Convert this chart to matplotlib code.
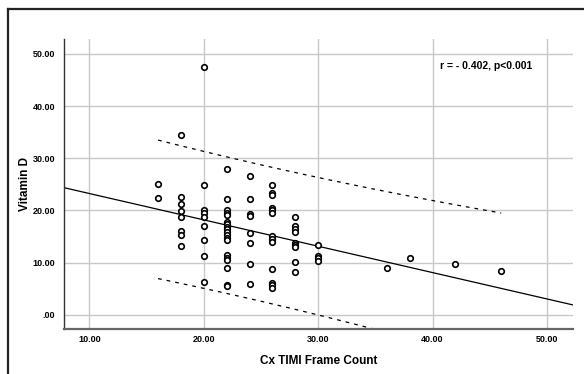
#!/usr/bin/env python3
"""Scatter of Vitamin D vs Cx TIMI frame count with fit line and 95% prediction band."""

import matplotlib

matplotlib.use("Agg")
import matplotlib.pyplot as plt
import numpy as np
from matplotlib.lines import Line2D

plt.rcParams["font.family"] = ["Liberation Sans", "DejaVu Sans"]

# frame count columns and the vitamin D values
frame_16 = [25.1, 22.4]
frame_18 = [34.4, 22.5, 21.3, 19.9, 18.7, 16.0, 15.2, 13.1]
frame_20 = [47.5, 24.8, 20.1, 19.5, 18.8, 17.1, 14.3, 11.3, 6.3]
frame_22 = [28.0, 22.1, 20.0, 19.5, 19.1, 17.8, 17.4, 16.9, 16.4, 15.9,
            15.3, 14.8, 14.3, 11.5, 10.9, 10.4, 8.9, 5.7, 5.5]
frame_24 = [26.5, 22.1, 19.4, 19.0, 15.6, 13.7, 9.8, 5.9]
frame_26 = [24.9, 23.4, 22.9, 20.5, 20.0, 19.5, 15.0, 14.5, 14.0, 8.7, 6.1, 5.6, 5.1]
frame_28 = [18.8, 17.0, 16.5, 15.9, 13.8, 13.4, 12.9, 10.1, 8.1]
frame_30 = [13.3, 11.3, 10.8, 10.3]
frame_36 = [8.9]
frame_38 = [10.9]
frame_42 = [9.7]
frame_46 = [8.4]

columns = {16: frame_16, 18: frame_18, 20: frame_20, 22: frame_22, 24: frame_24,
           26: frame_26, 28: frame_28, 30: frame_30, 36: frame_36, 38: frame_38,
           42: frame_42, 46: frame_46}

x_ticks = [10, 20, 30, 40, 50]
y_ticks = [0, 10, 20, 30, 40, 50]
stat_text = "r = - 0.402, p<0.001"

x = np.concatenate([[k] * len(v) for k, v in columns.items()]).astype(float)
y = np.concatenate(list(columns.values()))

fig = plt.figure(figsize=(5.84, 3.74), dpi=100)
ax = fig.add_axes([0.110, 0.121, 0.871, 0.774])

ax.grid(True, color="#c8c8c8", linewidth=1.0, zorder=0)
ax.set_axisbelow(True)

ax.scatter(x, y, s=16, facecolors="white", edgecolors="black", linewidths=1.2, zorder=3)

# least squares fit and 95% prediction interval
slope, intercept = np.polyfit(x, y, 1)
xmin, xmax = 7.8, 52.27
xs = np.array([xmin, xmax])
ax.plot(xs, intercept + slope * xs, color="black", linewidth=0.9, zorder=2)

n = len(x)
resid = y - (intercept + slope * x)
s_err = np.sqrt(np.sum(resid ** 2) / (n - 2))
t_val = 1.993
xb = np.linspace(x.min(), x.max(), 100)
se_pred = s_err * np.sqrt(1 + 1 / n + (xb - x.mean()) ** 2 / np.sum((x - x.mean()) ** 2))
yb = intercept + slope * xb
ax.plot(xb, yb + t_val * se_pred, color="black", linestyle=(0, (3, 4)), linewidth=0.9, zorder=2)
ax.plot(xb, yb - t_val * se_pred, color="black", linestyle=(0, (3, 4)), linewidth=0.9, zorder=2)

ax.set_xlim(xmin, xmax)
ax.set_ylim(-2.69, 52.8)
ax.set_xticks(x_ticks)
ax.set_yticks(y_ticks)
ax.set_xticklabels([f"{v:.2f}" for v in x_ticks])
ax.set_yticklabels([f"{v:.2f}".lstrip("0") if v == 0 else f"{v:.2f}" for v in y_ticks])
ax.tick_params(axis="x", length=0, labelsize=6.5, pad=4.5)
ax.tick_params(axis="y", length=0, labelsize=6.5, pad=6.5)
for lbl in ax.get_xticklabels() + ax.get_yticklabels():
    lbl.set_fontweight("bold")

for side in ("top", "right"):
    ax.spines[side].set_visible(False)
ax.spines["left"].set_color("#333333")
ax.spines["left"].set_linewidth(1.0)
ax.spines["bottom"].set_color("#666666")
ax.spines["bottom"].set_linewidth(1.6)

ax.set_xlabel("Cx TIMI Frame Count", fontsize=8.5, fontweight="bold", labelpad=8)
ax.set_ylabel("Vitamin D", fontsize=8.5, fontweight="bold", labelpad=1)

ax.text(0.920, 0.908, stat_text, transform=ax.transAxes, ha="right", va="center",
        fontsize=7.5, fontweight="bold")

# outer chart frame (only left and top edges fall inside the image)
fig.add_artist(Line2D([8 / 584, 8 / 584], [0, 1 - 9 / 374], color="#222222", linewidth=1.6))
fig.add_artist(Line2D([8 / 584, 1], [1 - 9 / 374, 1 - 9 / 374], color="#222222", linewidth=1.6))

fig.savefig("out.png", dpi=100)
